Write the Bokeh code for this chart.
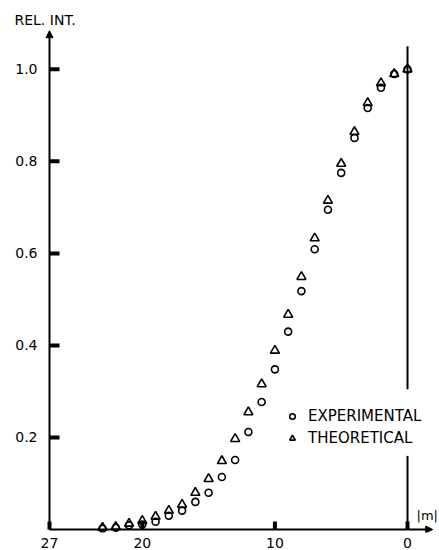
from bokeh.plotting import figure
from bokeh.models import Range1d, FixedTicker, Arrow, NormalHead, Label, Legend, LegendItem
from bokeh.embed import file_html
from bokeh.resources import INLINE

# |m| values
m = list(range(24))
experimental = [1.0, 0.99, 0.96, 0.916, 0.851, 0.775, 0.695, 0.609, 0.518, 0.43, 0.348, 0.277,
                0.212, 0.151, 0.114, 0.080, 0.060, 0.041, 0.030, 0.017, 0.011, 0.009, 0.004, 0.002]
theoretical = [1.0, 0.99, 0.97, 0.927, 0.864, 0.795, 0.715, 0.633, 0.549, 0.467, 0.389, 0.316,
               0.255, 0.197, 0.149, 0.110, 0.080, 0.054, 0.041, 0.028, 0.019, 0.013, 0.006, 0.004]

x_ticks = [27, 20, 10, 0]
x_tick_labels = ["27", "20", "10", "0"]
y_ticks = [0.2, 0.4, 0.6, 0.8, 1.0]
y_tick_labels = ["0.2", "0.4", "0.6", "0.8", "1.0"]

FONT = "DejaVu Sans"
PX_X = 13.259   # pixels per unit of |m|
PX_Y = 462.0    # pixels per unit of REL. INT.

p = figure(width=439, height=550, output_backend="svg", toolbar_location=None,
           x_range=Range1d(27 + 5 / PX_X, -2.413), y_range=Range1d(-3 / PX_Y, 503 / PX_Y),
           min_border_left=44, min_border_right=0, min_border_top=28, min_border_bottom=16)
p.outline_line_color = None
p.grid.visible = False
p.background_fill_color = "white"
p.border_fill_color = "white"

p.title.text = "REL. INT."
p.title.align = "left"
p.title.offset = -30
p.title.standoff = 2
p.title.text_font = FONT
p.title.text_font_size = "14px"
p.title.text_font_style = "normal"
p.title.text_color = "black"

for ax, ticks, labels in ((p.xaxis[0], x_ticks, x_tick_labels), (p.yaxis[0], y_ticks, y_tick_labels)):
    ax.ticker = FixedTicker(ticks=list(ticks))
    ax.major_label_overrides = {t: l for t, l in zip(ticks, labels)}
    ax.axis_line_alpha = 0
    ax.major_tick_line_color = None
    ax.minor_tick_line_color = None
    ax.major_label_text_font = FONT
    ax.major_label_text_font_size = "14px"
    ax.major_label_text_color = "black"
p.xaxis.major_label_standoff = -1
p.yaxis.major_label_standoff = 1

# tick marks pointing into the plot
tick_xs = [[27.0, 27.0 - 10 / PX_X] for _ in y_ticks] + [[float(t), float(t)] for t in x_ticks]
tick_ys = [[float(t), float(t)] for t in y_ticks] + [[0.0, 8 / PX_Y] for _ in x_ticks]
p.multi_line(xs=tick_xs, ys=tick_ys, line_width=4, line_color="black")

# axes with arrows
head = dict(size=7, fill_color="black", line_color="black", line_width=1)
p.add_layout(Arrow(end=NormalHead(**head), x_start=27, y_start=0, x_end=27, y_end=1.084,
                   line_width=2, line_color="black"))
p.add_layout(Arrow(end=NormalHead(**head), x_start=27, y_start=0, x_end=-1.9, y_end=0,
                   line_width=2, line_color="black"))

# vertical line at |m| = 0 (interrupted by the legend)
p.segment(x0=[0, 0], y0=[0, 0.305], x1=[0, 0], y1=[0.16, 1.05], line_width=2, line_color="black")

r_exp = p.scatter(m, experimental, marker="circle", size=7, fill_color=None,
                  line_color="black", line_width=1.6)
r_theo = p.scatter(m, theoretical, marker="triangle", size=9, fill_color=None,
                   line_color="black", line_width=1.6)

legend = Legend(items=[LegendItem(label="EXPERIMENTAL", renderers=[r_exp]),
                       LegendItem(label="THEORETICAL", renderers=[r_theo])],
                location=(241, 84), orientation="vertical",
                glyph_width=14, glyph_height=20, label_height=20, spacing=2,
                label_standoff=9, padding=0, margin=0,
                border_line_alpha=0, background_fill_alpha=0,
                label_text_font=FONT, label_text_font_size="15px", label_text_color="black",
                label_text_baseline="middle")
p.add_layout(legend)

p.add_layout(Label(x=-0.68, y=0.03, text="|m|", text_font=FONT, text_font_size="13px",
                   text_baseline="middle", text_align="left", text_color="black"))

open("out.html", "w").write(file_html(p, INLINE))
